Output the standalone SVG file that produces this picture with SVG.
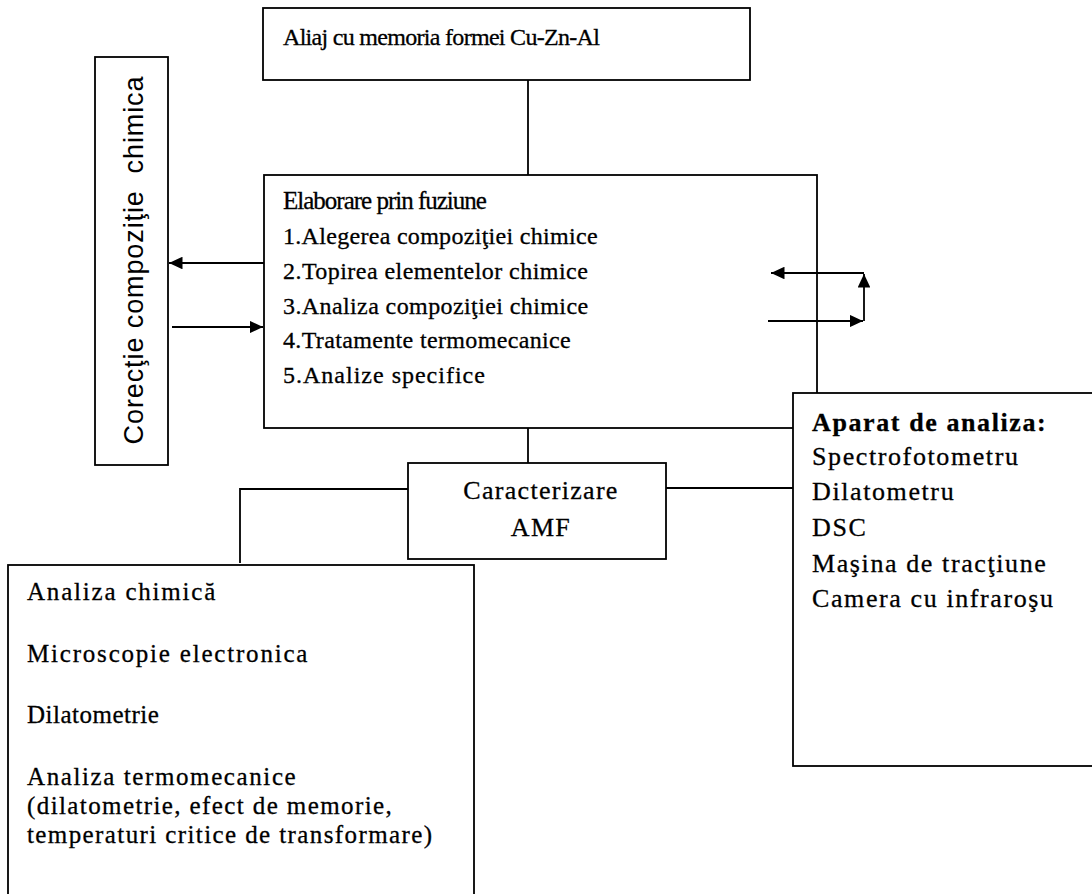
<svg xmlns="http://www.w3.org/2000/svg" width="1092" height="894" viewBox="0 0 1092 894">
<style>
.box{fill:#fff;stroke:#000;stroke-width:1.8}
.ln{fill:none;stroke:#000;stroke-width:1.8}
.t{font-family:"Liberation Serif","Times New Roman",serif;fill:#000;stroke:#000;stroke-width:0.3}
.s{font-family:"Liberation Sans",Arial,sans-serif;fill:#000}
</style>
<defs>
<marker id="ah" viewBox="0 0 10 10" refX="10" refY="5" markerWidth="7.5" markerHeight="7" markerUnits="strokeWidth" orient="auto" preserveAspectRatio="none">
<path d="M0,0 L10,5 L0,10 z" fill="#000"/>
</marker>
</defs>
<g id="n-aliaj">
<rect class="box" x="263" y="8" width="487" height="72"/>
<text class="t" x="283" y="45" font-size="24" letter-spacing="-0.7">Aliaj cu memoria formei Cu-Zn-Al</text>
</g>
<g id="n-corectie">
<rect class="box" x="95" y="57" width="73" height="408"/>
<text class="s" transform="translate(143,260) rotate(-90)" text-anchor="middle" font-size="27" letter-spacing="0.9" xml:space="preserve">Corecţie compoziţie  chimica</text>
</g>
<g id="n-elaborare">
<rect class="box" x="264" y="175" width="553" height="253"/>
<g class="t" font-size="24">
<text x="283" y="209" font-size="25" letter-spacing="-1">Elaborare prin fuziune</text>
<text x="283" y="244" letter-spacing="0.3">1.Alegerea compoziţiei chimice</text>
<text x="283" y="279" letter-spacing="0.45">2.Topirea elementelor chimice</text>
<text x="283" y="314" letter-spacing="0.4">3.Analiza compoziţiei chimice</text>
<text x="283" y="348" letter-spacing="0.35">4.Tratamente termomecanice</text>
<text x="283" y="383" letter-spacing="1">5.Analize specifice</text>
</g>
</g>
<g id="n-aparat">
<rect class="box" x="793" y="393" width="310" height="373"/>
<g class="t" font-size="26" letter-spacing="1.6">
<text x="812" y="431" font-weight="bold">Aparat de analiza:</text>
<text x="812" y="465">Spectrofotometru</text>
<text x="812" y="500">Dilatometru</text>
<text x="812" y="536">DSC</text>
<text x="812" y="572">Maşina de tracţiune</text>
<text x="812" y="607">Camera cu infraroşu</text>
</g>
</g>
<g id="n-caracterizare">
<rect class="box" x="408" y="463" width="258" height="96"/>
<g class="t" font-size="26" text-anchor="middle" letter-spacing="1.3">
<text x="541" y="499">Caracterizare</text>
<text x="541" y="536">AMF</text>
</g>
</g>
<g id="n-analize">
<rect class="box" x="8" y="565" width="466" height="340"/>
<g class="t" font-size="25">
<text x="27" y="600" letter-spacing="1.8">Analiza chimică</text>
<text x="27" y="662" letter-spacing="1.8">Microscopie electronica</text>
<text x="27" y="723" letter-spacing="0.5">Dilatometrie</text>
<text x="27" y="785" letter-spacing="1.6">Analiza termomecanice</text>
<text x="27" y="814" letter-spacing="1.4">(dilatometrie, efect de memorie,</text>
<text x="27" y="843" letter-spacing="1.4">temperaturi critice de transformare)</text>
</g>
</g>
<g id="connectors">
<path class="ln" d="M528,80 V175"/>
<path class="ln" d="M528,428 V463"/>
<path class="ln" d="M408,489 H240 V563"/>
<path class="ln" d="M666,488 H793"/>
<path class="ln" d="M264,263 H169" marker-end="url(#ah)"/>
<path class="ln" d="M172,327 H263" marker-end="url(#ah)"/>
<path class="ln" d="M768,321 H863" marker-end="url(#ah)"/>
<path class="ln" d="M864,321 V274" marker-end="url(#ah)"/>
<path class="ln" d="M864,273 H771" marker-end="url(#ah)"/>
</g>
</svg>
